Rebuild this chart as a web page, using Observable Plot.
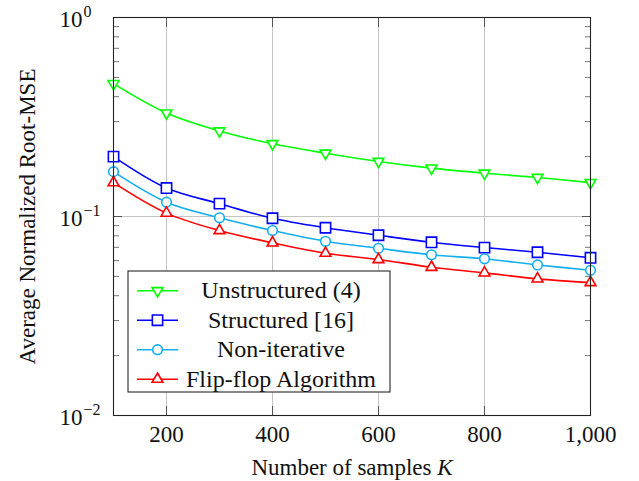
<!DOCTYPE html>
<html><head><meta charset="utf-8">
<script src="https://cdn.jsdelivr.net/npm/d3@7"></script>
<script src="https://cdn.jsdelivr.net/npm/@observablehq/plot@0.6"></script>
<style>body{margin:0;background:#fff} svg{display:block} svg text{font-family:"Liberation Serif","Times New Roman",serif !important}</style>
</head><body><div id="chart"></div>
<script>
const K = [100, 200, 300, 400, 500, 600, 700, 800, 900, 1000];
const unstructured = [0.465, 0.331, 0.269, 0.232, 0.208, 0.189, 0.175, 0.165, 0.157, 0.148];
const structured = [0.200, 0.139, 0.116, 0.098, 0.0878, 0.0805, 0.0742, 0.0698, 0.0661, 0.0620];
const nonIterative = [0.168, 0.118, 0.0985, 0.085, 0.0751, 0.0692, 0.0642, 0.0613, 0.0571, 0.0537];
const flipFlop = [0.148, 0.104, 0.085, 0.0737, 0.0654, 0.0608, 0.0556, 0.0521, 0.0486, 0.0466];
const seriesNames = ["Unstructured (4)", "Structured [16]", "Non-iterative", "Flip-flop Algorithm"];
const seriesValues = [unstructured, structured, nonIterative, flipFlop];
const seriesColors = ["#00ff00", "#0000ff", "#14aeee", "#ff0000"];
const seriesSymbols = ["triangle", "square", "circle", "triangle"];
const seriesRotate = [180, 0, 0, 0];
const seriesR = [4, 5.8, 4.8, 4];
const xTicks = [200, 400, 600, 800, 1000];
const yMajor = [0.01, 0.1, 1];
const yExp = ["\u22122", "\u22121", "0"];
const yMinor = [0.02, 0.03, 0.04, 0.05, 0.06, 0.07, 0.08, 0.09, 0.2, 0.3, 0.4, 0.5, 0.6, 0.7, 0.8, 0.9];
const xLabel = "Number of samples K";
const yLabel = "Average Normalized Root-MSE";

const rows = [];
seriesNames.forEach((name, i) => {
  K.forEach((k, j) => rows.push({k, v: seriesValues[i][j], s: name, i}));
});

const font = '"Liberation Serif", "Times New Roman", serif';
const fs = 23;

const marks = [
  Plot.ruleX(xTicks, {x: d => d, stroke: "#c4c4c4", strokeWidth: 1}),
  Plot.ruleY(yMajor, {y: d => d, stroke: "#c4c4c4", strokeWidth: 1}),
  Plot.axisY({anchor: "left", ticks: yMinor, tickSize: 6, dx: 6, tickFormat: () => "", label: null, stroke: "#777"}),
  Plot.axisY({anchor: "right", ticks: yMinor, tickSize: 6, dx: -6, tickFormat: () => "", label: null, stroke: "#777"}),
  Plot.axisY({anchor: "left", ticks: yMajor, tickSize: 9, dx: 9, tickFormat: () => "", label: null, stroke: "#555"}),
  Plot.axisY({anchor: "right", ticks: yMajor, tickSize: 9, dx: -9, tickFormat: () => "", label: null, stroke: "#555"}),
  Plot.axisX({anchor: "bottom", ticks: xTicks, tickSize: 9, dy: -9, tickFormat: () => "", label: null, stroke: "#555"}),
  Plot.axisX({anchor: "top", ticks: xTicks, tickSize: 9, dy: 9, tickFormat: () => "", label: null, stroke: "#555"}),
];
seriesNames.forEach((name, i) => {
  const d = rows.filter(r => r.i === i);
  marks.push(Plot.line(d, {x: "k", y: "v", stroke: seriesColors[i], strokeWidth: 1.6, curve: "catmull-rom"}));
});
seriesNames.forEach((name, i) => {
  const d = rows.filter(r => r.i === i);
  marks.push(Plot.dot(d, {x: "k", y: "v", symbol: seriesSymbols[i], rotate: seriesRotate[i], r: seriesR[i],
    stroke: seriesColors[i], strokeWidth: 1.6, fill: "white"}));
});
marks.push(
  Plot.frame({stroke: "#222", strokeWidth: 1.1}),
  Plot.text(xTicks, {x: d => d, text: d => d3.format(",")(d), frameAnchor: "bottom", textAnchor: "middle", lineAnchor: "top", dy: 10, fontSize: fs, fill: "#111", fontFamily: font}),
  Plot.text(yMajor, {y: d => d, text: () => "10", frameAnchor: "left", textAnchor: "end", lineAnchor: "middle", dx: -31, dy: 2.5, fontSize: fs, fill: "#111", fontFamily: font}),
  Plot.text(yMajor, {y: d => d, text: (d, i) => yExp[i], frameAnchor: "left", textAnchor: "start", lineAnchor: "middle", dx: -30, dy: -6, fontSize: 16, fill: "#111", fontFamily: font}),
  Plot.text([xLabel], {text: d => d, frameAnchor: "bottom", textAnchor: "middle", lineAnchor: "middle", dy: 52.5, fontSize: fs, fill: "#111", fontFamily: font}),
  Plot.text([yLabel], {text: d => d, frameAnchor: "left", textAnchor: "middle", rotate: -90, lineAnchor: "middle", dx: -86, fontSize: fs, fill: "#111", fontFamily: font})
);

const chart = Plot.plot({
  width: 639, height: 481,
  marginLeft: 113, marginRight: 49, marginTop: 17, marginBottom: 66,
  x: {domain: [100, 1000]},
  y: {type: "log", domain: [0.01, 1]},
  style: {fontFamily: font, background: "white"},
  marks
});

d3.select(chart).selectAll("text").each(function() {
  const t = d3.select(this);
  if (t.text() === xLabel) {
    const tsp = t.select("tspan").empty() ? t : t.select("tspan");
    tsp.text("Number of samples ");
    tsp.append("tspan").attr("font-style", "italic").text("K");
  }
});

const svg = d3.select(chart);
const lg = svg.append("g").attr("font-family", font).attr("font-size", 24);
const lx0 = 128, ly0 = 271, lw = 262, lh = 121;
lg.append("rect").attr("x", lx0).attr("y", ly0).attr("width", lw).attr("height", lh)
  .attr("fill", "white").attr("stroke", "#111").attr("stroke-width", 1);
const symMap = {triangle: d3.symbolTriangle, square: d3.symbolSquare, circle: d3.symbolCircle};
seriesNames.forEach((name, i) => {
  const cy = ly0 + 19.7 + i * 29.5;
  lg.append("line").attr("x1", lx0 + 9).attr("x2", lx0 + 50).attr("y1", cy).attr("y2", cy)
    .attr("stroke", seriesColors[i]).attr("stroke-width", 1.6);
  lg.append("path").attr("d", d3.symbol(symMap[seriesSymbols[i]], Math.PI * seriesR[i] * seriesR[i])())
    .attr("transform", `translate(${lx0 + 29.5},${cy}) rotate(${seriesRotate[i]})`)
    .attr("fill", "white").attr("stroke", seriesColors[i]).attr("stroke-width", 1.6);
  lg.append("text").attr("x", 281).attr("y", cy + 7.5).attr("text-anchor", "middle").attr("fill", "#111").text(name);
});

document.getElementById("chart").appendChild(chart);
</script>
</body></html>
